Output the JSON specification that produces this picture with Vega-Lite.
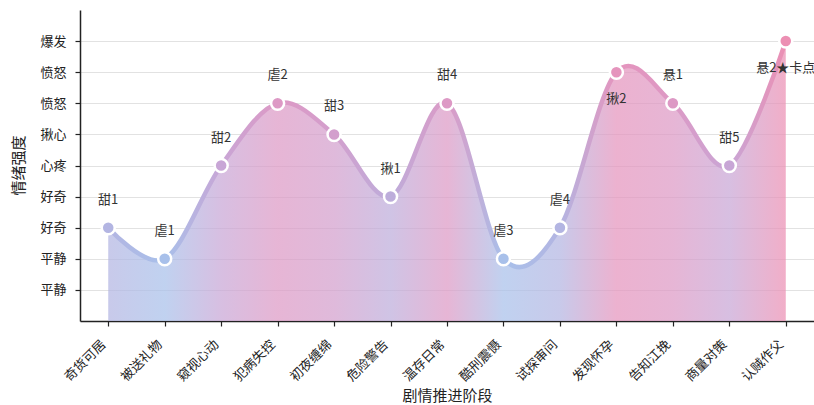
{
  "$schema": "https://vega.github.io/schema/vega-lite/v6.json",
  "autosize": {"type": "none"},
  "width": 734,
  "height": 311,
  "padding": {"left": 80, "top": 10, "right": 0, "bottom": 84},
  "background": "white",
  "config": {
    "font": "Noto Sans CJK SC",
    "view": {"stroke": null},
    "axis": {
      "labelFont": "Noto Sans CJK SC",
      "titleFont": "Noto Sans CJK SC",
      "labelFontSize": 13,
      "titleFontSize": 15,
      "titleFontWeight": "normal",
      "labelColor": "#222222",
      "titleColor": "#222222",
      "domainColor": "#222222",
      "domainWidth": 1.5,
      "tickColor": "#222222",
      "tickWidth": 1.2,
      "tickSize": 5
    }
  },
  "data": {
    "values": [
      {"stage": "奇货可居", "level": 3, "note": "甜1"},
      {"stage": "被送礼物", "level": 2, "note": "虐1"},
      {"stage": "窥视心动", "level": 5, "note": "甜2"},
      {"stage": "犯病失控", "level": 7, "note": "虐2"},
      {"stage": "初夜缠绵", "level": 6, "note": "甜3"},
      {"stage": "危险警告", "level": 4, "note": "揪1"},
      {"stage": "温存日常", "level": 7, "note": "甜4"},
      {"stage": "酷刑震慑", "level": 2, "note": "虐3"},
      {"stage": "试探审问", "level": 3, "note": "虐4"},
      {"stage": "发现怀孕", "level": 8, "note": "揪2"},
      {"stage": "告知江挽", "level": 7, "note": "悬1"},
      {"stage": "商量对策", "level": 5, "note": "甜5"},
      {"stage": "认贼作父", "level": 9, "note": "悬2★卡点"}
    ]
  },
  "encoding": {
    "x": {
      "field": "stage",
      "type": "ordinal",
      "sort": null,
      "scale": {"type": "point", "padding": 0.5},
      "axis": {
        "title": "剧情推进阶段",
        "labelAngle": -45,
        "labelAlign": "right",
        "labelBaseline": "middle",
        "labelPadding": 16,
        "labelOffset": -5,
        "titleBaseline": "middle",
        "titleY": 74,
        "grid": false
      }
    },
    "y": {
      "field": "level",
      "type": "quantitative",
      "scale": {"domain": [0, 10], "nice": false, "zero": false},
      "axis": {
        "title": "情绪强度",
        "values": [1, 2, 3, 4, 5, 6, 7, 8, 9],
        "labelExpr": "['','平静','平静','好奇','好奇','心疼','揪心','愤怒','愤怒','爆发'][datum.value]",
        "grid": true,
        "gridColor": "#e2e2e2",
        "gridWidth": 1,
        "labelPadding": 9,
        "titleX": -62,
        "titleY": 155,
        "titleBaseline": "middle"
      }
    }
  },
  "layer": [
    {
      "mark": {
        "type": "area",
        "interpolate": "cardinal",
        "fillOpacity": 0.72,
        "fill": {
          "gradient": "linear",
          "stops": [
            {"offset": 0.0, "color": "#b3b5e2"},
            {"offset": 0.0833, "color": "#a8c0ea"},
            {"offset": 0.1667, "color": "#c8a6d6"},
            {"offset": 0.25, "color": "#dd99c5"},
            {"offset": 0.3333, "color": "#d39fcd"},
            {"offset": 0.4167, "color": "#bdaddb"},
            {"offset": 0.5, "color": "#dd99c5"},
            {"offset": 0.5833, "color": "#a8c0ea"},
            {"offset": 0.6667, "color": "#b3b5e2"},
            {"offset": 0.75, "color": "#e594bd"},
            {"offset": 0.8333, "color": "#dd99c5"},
            {"offset": 0.9167, "color": "#c8a6d6"},
            {"offset": 1.0, "color": "#ec8fb3"}
          ]
        }
      }
    },
    {
      "mark": {
        "type": "line",
        "interpolate": "cardinal",
        "strokeWidth": 4.5,
        "strokeCap": "round",
        "stroke": {
          "gradient": "linear",
          "stops": [
            {"offset": 0.0, "color": "#b3b5e2"},
            {"offset": 0.0833, "color": "#a8c0ea"},
            {"offset": 0.1667, "color": "#c8a6d6"},
            {"offset": 0.25, "color": "#dd99c5"},
            {"offset": 0.3333, "color": "#d39fcd"},
            {"offset": 0.4167, "color": "#bdaddb"},
            {"offset": 0.5, "color": "#dd99c5"},
            {"offset": 0.5833, "color": "#a8c0ea"},
            {"offset": 0.6667, "color": "#b3b5e2"},
            {"offset": 0.75, "color": "#e594bd"},
            {"offset": 0.8333, "color": "#dd99c5"},
            {"offset": 0.9167, "color": "#c8a6d6"},
            {"offset": 1.0, "color": "#ec8fb3"}
          ]
        }
      }
    },
    {
      "mark": {"type": "point", "filled": true, "size": 170, "stroke": "white", "strokeWidth": 2.5, "opacity": 1},
      "encoding": {
        "color": {
          "field": "level",
          "type": "quantitative",
          "scale": {
            "domain": [2, 3, 4, 5, 6, 7, 8, 9],
            "range": ["#a8c0ea", "#b3b5e2", "#bdaddb", "#c8a6d6", "#d39fcd", "#dd99c5", "#e594bd", "#ec8fb3"]
          },
          "legend": null
        }
      }
    },
    {
      "transform": [{"filter": {"not": {"field": "note", "oneOf": ["揪2", "悬2★卡点"]}}}],
      "mark": {"type": "text", "dy": -28, "fontSize": 13, "color": "#333333", "font": "Noto Sans CJK SC"},
      "encoding": {"text": {"field": "note"}}
    },
    {
      "transform": [{"filter": {"field": "note", "oneOf": ["揪2", "悬2★卡点"]}}],
      "mark": {"type": "text", "dy": 27, "fontSize": 13, "color": "#333333", "font": "Noto Sans CJK SC"},
      "encoding": {"text": {"field": "note"}}
    }
  ]
}
